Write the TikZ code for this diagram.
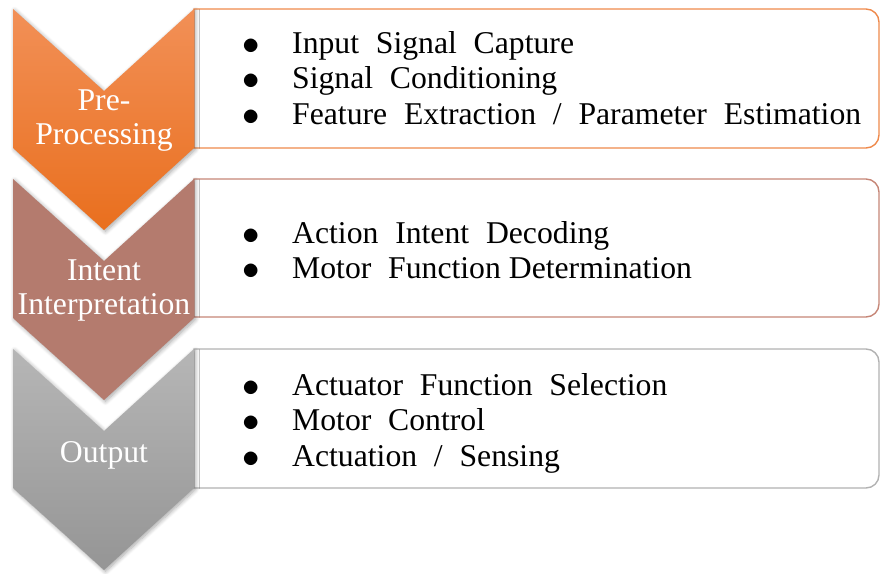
\documentclass[tikz,border=0pt]{standalone}
\usepackage{fontspec}
\usepackage{graphicx}
\setmainfont{Liberation Serif}
\usetikzlibrary{shadows.blur}

\definecolor{preTop}{HTML}{F29057}
\definecolor{preBot}{HTML}{E96F1E}
\definecolor{preLine}{HTML}{EF8A4C}
\definecolor{intFill}{HTML}{B47B6E}
\definecolor{intLine}{HTML}{C68677}
\definecolor{outTop}{HTML}{B6B6B6}
\definecolor{outBot}{HTML}{959595}
\definecolor{outLine}{HTML}{B2B2B2}

% wide gap between words, as in the bullet items
\newcommand{\wgap}{\hspace{0.53em}}
% round list bullet
\newcommand{\itembullet}{\makebox[22pt][c]{\raisebox{-1pt}{\scalebox{1.4}{$\bullet$}}}}

\tikzset{
  chevshadow/.style={blur shadow={shadow xshift=1.5pt, shadow yshift=-1.5pt,
      shadow blur steps=8, shadow blur radius=4pt, shadow opacity=35}},
  chevlabel/.style={text=white, inner sep=0pt, anchor=base,
      font=\fontsize{31.7}{34}\selectfont},
  itemlist/.style={inner sep=0pt, anchor=base west,
      font=\fontsize{31.7}{35.5}\selectfont},
  infobox/.style={line width=1.4pt, fill=white},
}

% a down-pointing chevron whose top edge is at #1
\newcommand{\chevronpath}[1]{
  (13,#1) -- (104,#1+82) -- (194,#1) -- (194,#1+139)
  -- (104,#1+221) -- (13,#1+139) -- cycle}

% a box with square left corners and rounded right corners
\newcommand{\infopath}[2]{
  (194,#1) [rounded corners=13pt]-- (879,#1) -- (879,#2)
  [sharp corners]-- (194,#2) -- cycle}

\begin{document}
\begin{tikzpicture}[x=1pt, y=-1pt]
  \useasboundingbox (0,0) rectangle (880,573);

  % information boxes
  \draw[infobox, draw=preLine] \infopath{9}{148};
  \draw[infobox, draw=intLine] \infopath{179}{317};
  \draw[infobox, draw=outLine] \infopath{349}{488};

  % chevrons, drawn bottom first so the upper tips sit on top
  \path[chevshadow, top color=outTop, bottom color=outBot] \chevronpath{349};
  \path[chevshadow, fill=intFill] \chevronpath{179};
  \path[chevshadow, top color=preTop, bottom color=preBot] \chevronpath{9};

  % stage labels
  \node[chevlabel] (pre) at (104,110)
    {\begin{tabular}[t]{@{}c@{}}Pre-\\Processing\end{tabular}};
  \node[chevlabel] (intent) at (104,280)
    {\begin{tabular}[t]{@{}c@{}}Intent\\Interpretation\end{tabular}};
  \node[chevlabel] (output) at (104,462) {Output};

  % bullet lists
  \node[itemlist] (preitems) at (240,53)
    {\begin{tabular}[t]{@{}c@{\hspace{30pt}}l@{}}
      \itembullet & Input\wgap Signal\wgap Capture\\
      \itembullet & Signal\wgap Conditioning\\
      \itembullet & Feature\wgap Extraction\wgap /\wgap Parameter\wgap Estimation
    \end{tabular}};
  \node[itemlist] (intitems) at (240,243)
    {\begin{tabular}[t]{@{}c@{\hspace{30pt}}l@{}}
      \itembullet & Action\wgap Intent\wgap Decoding\\
      \itembullet & Motor\wgap Function Determination
    \end{tabular}};
  \node[itemlist] (outitems) at (240,395)
    {\begin{tabular}[t]{@{}c@{\hspace{30pt}}l@{}}
      \itembullet & Actuator\wgap Function\wgap Selection\\
      \itembullet & Motor\wgap Control\\
      \itembullet & Actuation\wgap /\wgap Sensing
    \end{tabular}};
\end{tikzpicture}
\end{document}
